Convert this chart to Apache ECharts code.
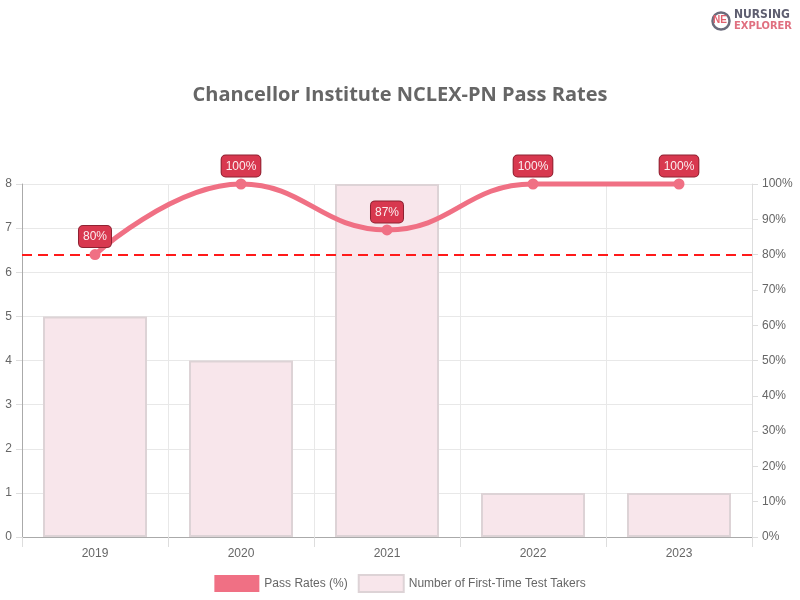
<!DOCTYPE html>
<html><head><meta charset="utf-8">
<script src="https://cdn.jsdelivr.net/npm/echarts@6/dist/echarts.min.js"></script>
<style>html,body{margin:0;padding:0;background:#fff}#c{width:800px;height:600px}</style>
</head><body><div id="c"></div>
<script>
const years = ['2019','2020','2021','2022','2023'];
const passRates = [80, 100, 87, 100, 100];
const testTakers = [5, 4, 8, 1, 1];
const benchmark = 80;
const leftTicks = {min:0, max:8, interval:1};
const rightTicks = {min:0, max:100, interval:10};

const chart = echarts.init(document.getElementById('c'));
const F = 'Liberation Sans, Arial, sans-serif';
chart.setOption({
  animation:false,
  title:{text:'Chancellor Institute NCLEX-PN Pass Rates', left:'center', top:80,
    textStyle:{fontFamily:'Open Sans, sans-serif', fontSize:20, fontWeight:'bold', color:'#666'}},
  legend:{bottom:2, itemWidth:45, itemHeight:17, itemGap:10,
    textStyle:{fontFamily:F, fontSize:12, color:'#666'},
    data:[{name:'Pass Rates (%)', icon:'rect'},{name:'Number of First-Time Test Takers', icon:'rect'}]},
  grid:{left:22, right:48, top:184, bottom:63},
  xAxis:{type:'category', data:years, boundaryGap:true,
    axisLine:{lineStyle:{color:'#aaa'}},
    axisTick:{show:true, length:10, lineStyle:{color:'#ddd'}},
    axisLabel:{fontFamily:F, fontSize:12, color:'#666', margin:11},
    splitLine:{show:true, lineStyle:{color:'#e8e8e8'}}},
  yAxis:[
    {type:'value', min:leftTicks.min, max:leftTicks.max, interval:leftTicks.interval,
     axisLine:{show:true, lineStyle:{color:'#aaa'}},
     axisTick:{show:true, length:6, lineStyle:{color:'#ddd'}},
     axisLabel:{fontFamily:F, fontSize:12, color:'#666', margin:10},
     splitLine:{lineStyle:{color:'#e8e8e8'}}},
    {type:'value', min:rightTicks.min, max:rightTicks.max, interval:rightTicks.interval, position:'right',
     axisLine:{show:true, lineStyle:{color:'#ddd'}},
     axisTick:{show:true, length:6, lineStyle:{color:'#ddd'}},
     axisLabel:{fontFamily:F, fontSize:12, color:'#666', margin:10, formatter:'{value}%'},
     splitLine:{show:false}}
  ],
  series:[
    {name:'Pass Rates (%)', type:'line', yAxisIndex:1, data:passRates, smooth:0.45, clip:false, z:5,
     symbol:'circle', symbolSize:11,
     lineStyle:{color:'#f07084', width:5},
     itemStyle:{color:'#f07084'},
     label:{show:true, position:'top', distance:2, formatter:'{c}%', color:'#fbeef0',
       fontFamily:F, fontSize:12, backgroundColor:'#d8384f', borderColor:'#8e2232', borderWidth:1,
       borderRadius:4, padding:[5,4,4,4]},
     markLine:{silent:true, symbol:'none', label:{show:false},
       lineStyle:{color:'#ff1a1a', type:[10,6], width:2},
       data:[{yAxis:benchmark}]}},
    {name:'Number of First-Time Test Takers', type:'bar', yAxisIndex:0, data:testTakers, barWidth:104, z:2,
     itemStyle:{color:'#f8e6eb', borderColor:'#ddd3d6', borderWidth:2}}
  ],
  graphic:[
    {type:'circle', shape:{cx:721, cy:21, r:8.5}, style:{fill:'#fff', stroke:'#6b6b7b', lineWidth:2.5}},
    {type:'text', left:713, top:15, style:{text:'NE', fill:'#e0606e', font:'bold 10px Liberation Sans'}},
    {type:'text', left:734, top:9, style:{text:'NURSING', fill:'#5e5e70', font:'bold 12px DejaVu Sans Condensed, Liberation Sans Narrow, sans-serif'}},
    {type:'text', left:734, top:21, style:{text:'EXPLORER', fill:'#e07080', font:'bold 11px DejaVu Sans Condensed, Liberation Sans Narrow, sans-serif'}}
  ]
});
</script></body></html>
